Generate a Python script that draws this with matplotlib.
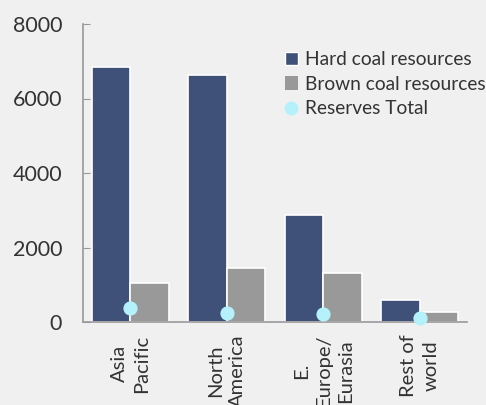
import numpy as np
import matplotlib.pyplot as plt
from matplotlib.lines import Line2D
from matplotlib.patches import Patch

plt.rcParams['font.family'] = ['Lato', 'DejaVu Sans']

regions = ['Asia\nPacific', 'North\nAmerica', 'E.\nEurope/\nEurasia', 'Rest of\nworld']
hard_coal = [6850, 6630, 2870, 590]
brown_coal = [1050, 1450, 1310, 275]
reserves = [380, 250, 225, 115]

bg = '#f0f0f0'
c_hard = '#3f5079'
c_brown = '#999999'
c_res = '#b5f1fb'
txt = '#333333'

fig = plt.figure(figsize=(4.86, 4.05), dpi=100, facecolor=bg)
ax = fig.add_axes([83 / 486, 1 - 322 / 405, 384 / 486, 298 / 405], facecolor=bg)

x = np.arange(len(regions))
w = 0.4
ax.bar(x - w / 2, hard_coal, w, color=c_hard, edgecolor='white', linewidth=1.2)
ax.bar(x + w / 2, brown_coal, w, color=c_brown, edgecolor='white', linewidth=1.2)
ax.scatter(x, reserves, s=85, color=c_res, zorder=3, clip_on=False)

ax.set_xlim(-0.49, 3.49)
ax.set_ylim(0, 8000)
ax.set_yticks([0, 2000, 4000, 6000, 8000])
ax.set_xticks(x)
ax.set_xticklabels(regions, rotation=90, ha='center', va='top', fontsize=14.5,
                   color=txt, linespacing=1.35)
ax.tick_params(axis='x', length=0, pad=9)
ax.tick_params(axis='y', direction='in', length=5, color='#999999',
               labelsize=15.5, labelcolor=txt, pad=15)

for s in ['top', 'right']:
    ax.spines[s].set_visible(False)
for s in ['left', 'bottom']:
    ax.spines[s].set_color('#999999')
    ax.spines[s].set_linewidth(1.2)

handles = [
    Patch(facecolor=c_hard, edgecolor='white', label='Hard coal resources'),
    Patch(facecolor=c_brown, edgecolor='none', label='Brown coal resources'),
    Line2D([], [], marker='o', linestyle='none', markersize=10,
           markerfacecolor=c_res, markeredgecolor='none', label='Reserves Total'),
]
ax.legend(handles=handles, loc='upper left', bbox_to_anchor=(0.505, 0.935),
          frameon=False, fontsize=13.8, handlelength=0.7, handleheight=0.7,
          handletextpad=0.35, labelspacing=0.4, borderaxespad=0,
          labelcolor=txt)

fig.savefig('out.png', dpi=100, facecolor=bg)
